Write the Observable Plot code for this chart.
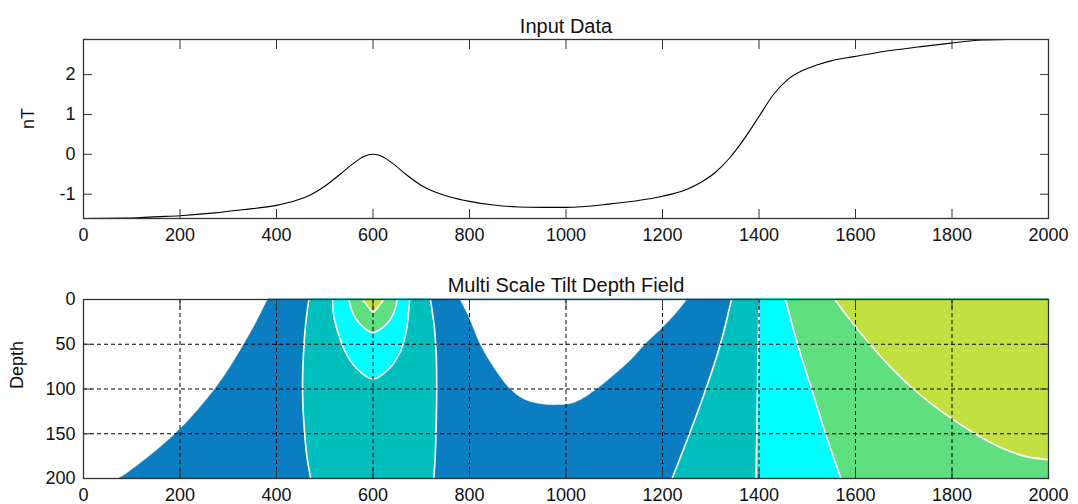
<!DOCTYPE html>
<html>
<head>
<meta charset="utf-8">
<script src="https://cdn.jsdelivr.net/npm/d3@7"></script>
<script src="https://cdn.jsdelivr.net/npm/@observablehq/plot@0.6"></script>
<style>
html, body { margin: 0; padding: 0; background: #fff; }
svg { display: block; }
</style>
</head>
<body>
<div id="chart"></div>
<script>
// ---------- data ----------
const titles = ["Input Data", "Multi Scale Tilt Depth Field"];
const yLabels = ["nT", "Depth"];
const xTicks = [0, 200, 400, 600, 800, 1000, 1200, 1400, 1600, 1800, 2000];
const nTTicks = [-1, 0, 1, 2];
const depthTicks = [0, 50, 100, 150, 200];
const xDomain = [0, 2000];
const nTDomain = [-1.61, 2.88];
const depthDomain = [0, 200];

// Input profile (distance, nT)
const inputX  = [0, 100, 143, 200, 272, 329, 400, 440, 470, 500, 530, 560, 580, 600, 620, 640, 670, 700, 730, 760, 800, 850, 900, 950, 1000, 1088, 1159, 1200, 1250, 1280, 1310, 1340, 1370, 1400, 1430, 1460, 1490, 1520, 1551, 1597, 1658, 1729, 1798, 1854, 1915];
const inputNT = [-1.61, -1.60, -1.57, -1.54, -1.47, -1.39, -1.28, -1.16, -1.02, -0.80, -0.52, -0.22, -0.06, 0, -0.06, -0.22, -0.52, -0.78, -0.95, -1.07, -1.18, -1.27, -1.32, -1.33, -1.33, -1.25, -1.14, -1.05, -0.88, -0.70, -0.45, -0.08, 0.40, 0.95, 1.50, 1.88, 2.10, 2.24, 2.35, 2.45, 2.58, 2.69, 2.79, 2.86, 2.88];

// Tilt-depth field boundaries, [distance, depth]
const blueLeftEdge    = [[383,0],[360,25],[334,50],[306,75],[274,100],[236,125],[192,150],[150,170],[115,185],[90,195],[75,200]];
const whiteBowl       = [[781,0],[800,20],[823,50],[850,75],[885,100],[915,112],[950,117],[985,118],[1020,115],[1065,100],[1110,80],[1140,65],[1165,50],[1200,32],[1225,18],[1252,0]];
const tealLeftSide    = [[467,0],[460,30],[456,60],[454,100],[457,140],[463,175],[471,200]];
const tealRightSide   = [[719,0],[727,30],[731,60],[732,100],[731,140],[729,175],[726,200]];
const cyanBowl        = [[516,0],[519,19],[530,41],[544,60],[566,77],[600,89],[634,77],[655,60],[667,41],[673,19],[676,0]];
const greenBowl       = [[550,0],[556,12],[565,22],[580,31],[600,37],[621,31],[636,22],[645,12],[650,0]];
const yellowTip       = [[578,0],[590,8],[600,14],[611,8],[622,0]];
const blueTealEdge    = [[1343,0],[1320,50],[1290,100],[1256,150],[1220,200]];
const tealCyanEdge    = [[1400,0],[1394,200]];
const cyanGreenEdge   = [[1455,0],[1480,50],[1509,100],[1538,150],[1570,200]];
const greenYellowEdge = [[1557,0],[1592,25],[1630,50],[1672,75],[1720,100],[1778,125],[1848,150],[1900,165],[1950,175],[2000,179]];

const colors = {white: "#FFFFFF", blue: "#0A7EC0", teal: "#00BFBD", cyan: "#00FFFF", green: "#60DF80", yellow: "#C2E141"};

// ---------- build ----------
const inputData = inputX.map((x, i) => ({x, nT: inputNT[i]}));
const X1 = xDomain[1], D0 = depthDomain[0];
const tealEllipse = tealLeftSide.map((p, i) => ({d: p[1], left: p[0], right: tealRightSide[i][0]}));
const curve = "catmull-rom";

// region filled from a depth-wise edge to the right border
const fillRight = (edge, color) =>
  Plot.areaX(edge, {y: d => d[1], x1: d => d[0], x2: () => X1, fill: color, stroke: color, strokeWidth: 0.5, curve});
// region filled from the surface down to a distance-wise edge
const fillFromTop = (edge, color) =>
  Plot.areaY(edge, {x: d => d[0], y1: () => D0, y2: d => d[1], fill: color, stroke: color, strokeWidth: 0.5, curve});

const regions = [
  fillRight(blueLeftEdge, colors.blue),
  fillFromTop(whiteBowl, colors.white),
  Plot.areaX(tealEllipse, {y: "d", x1: "left", x2: "right", fill: colors.teal, stroke: colors.teal, strokeWidth: 0.5, curve}),
  fillFromTop(cyanBowl, colors.cyan),
  fillFromTop(greenBowl, colors.green),
  fillFromTop(yellowTip, colors.yellow),
  fillRight(blueTealEdge, colors.teal),
  fillRight(tealCyanEdge, colors.cyan),
  fillRight(cyanGreenEdge, colors.green),
  fillFromTop(greenYellowEdge, colors.yellow)
];
const contourLines = [tealLeftSide, tealRightSide, cyanBowl, greenBowl, yellowTip, blueTealEdge, tealCyanEdge, cyanGreenEdge, greenYellowEdge];

const fontFamily = "'Liberation Sans', Arial, Helvetica, sans-serif";
const fmt = d => `${d}`;
const W = 1078, mL = 83, mR = 30;
const axisColor = "#333";

function axes(yTicks, yTickPad) {
  return [
    Plot.frame({stroke: axisColor, strokeWidth: 1.3}),
    Plot.axisX(xTicks, {anchor: "bottom", tickSize: -9, tickPadding: 19, tickFormat: fmt, label: null, stroke: axisColor, fill: "#111"}),
    Plot.axisX(xTicks, {anchor: "top", tickSize: -9, fill: "none", label: null, stroke: axisColor}),
    Plot.axisY(yTicks, {anchor: "left", tickSize: -9, tickPadding: yTickPad, tickFormat: fmt, label: null, stroke: axisColor, fill: "#111"}),
    Plot.axisY(yTicks, {anchor: "right", tickSize: -9, fill: "none", label: null, stroke: axisColor})
  ];
}

const plotTop = Plot.plot({
  width: W, height: 250,
  marginLeft: mL, marginRight: mR, marginTop: 39, marginBottom: 32,
  style: {fontFamily, fontSize: "18px", color: "#111", background: "#fff", overflow: "visible"},
  x: {domain: xDomain},
  y: {domain: nTDomain},
  marks: [
    Plot.line(inputData, {x: "x", y: "nT", stroke: "#000", strokeWidth: 1.1, curve: "monotone-x", clip: true}),
    ...axes(nTTicks, 17),
    Plot.text([titles[0]], {frameAnchor: "top", dy: -21, fontSize: 20, fill: "#111"}),
    Plot.text([yLabels[0]], {frameAnchor: "left", dx: -55, rotate: -90, fontSize: 18, fill: "#111"})
  ]
});

const plotBottom = Plot.plot({
  width: W, height: 254,
  marginLeft: mL, marginRight: mR, marginTop: 49, marginBottom: 26,
  style: {fontFamily, fontSize: "18px", color: "#111", background: "#fff", overflow: "visible"},
  x: {domain: xDomain},
  y: {domain: depthDomain, reverse: true},
  marks: [
    ...regions,
    ...contourLines.map(c => Plot.line(c, {x: d => d[0], y: d => d[1], stroke: "#fff", strokeWidth: 1.6, curve, clip: true})),
    Plot.gridX(xTicks, {stroke: "#000", strokeOpacity: 1, strokeWidth: 1, strokeDasharray: "4,3"}),
    Plot.gridY(depthTicks, {stroke: "#000", strokeOpacity: 1, strokeWidth: 1, strokeDasharray: "4,3"}),
    ...axes(depthTicks, 17),
    Plot.text([titles[1]], {frameAnchor: "top", dy: -22, fontSize: 20, fill: "#111"}),
    Plot.text([yLabels[1]], {frameAnchor: "left", dx: -66, rotate: -90, fontSize: 18, fill: "#111"})
  ]
});

const root = document.getElementById("chart");
root.appendChild(plotTop);
root.appendChild(plotBottom);
</script>
</body>
</html>
